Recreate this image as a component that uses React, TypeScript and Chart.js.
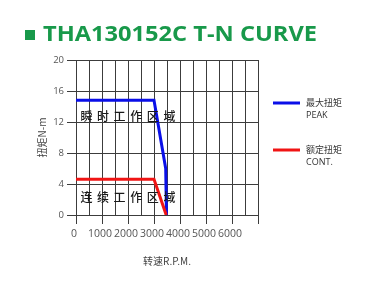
import React, { useEffect, useRef } from 'react';
import { Chart, registerables } from 'chart.js';

Chart.register(...registerables);

// ---- data ----
const chartTitle = 'THA130152C T-N CURVE';
const peakRpm = [0, 3000, 3450, 3480];
const peakTorque = [14.8, 14.8, 6.0, 0];
const contRpm = [0, 3000, 3470];
const contTorque = [4.6, 4.6, 0];
const seriesNamesCn = ['最大扭矩', '额定扭矩'];
const seriesNamesEn = ['PEAK', 'CONT.'];
const regionLabels = ['瞬时工作区域', '连续工作区域'];
const regionRpm = [400, 400];
const regionTorque = [12.7, 2.3];
const xTicksShown = [0, 1000, 2000, 3000, 4000, 5000, 6000];
const xMajorTicks = [0, 1000, 2000, 3000, 4000, 5000, 6000, 7000];
const yAxisTitle = '扭矩N-m';
const xAxisTitle = '转速R.P.M.';

const BLUE = '#0a0fe8';
const RED = '#f01414';
const GREEN = '#18994a';
const GRID = '#3c3c3c';

const decorPlugin = {
  id: 'decor',
  afterDraw(chart: any) {
    const ctx = chart.ctx;
    const xs = chart.scales.x;
    const ys = chart.scales.y;
    ctx.save();
    // title
    ctx.fillStyle = GREEN;
    ctx.fillRect(25, 30, 10, 10);
    ctx.font = 'bold 22px "Open Sans"';
    ctx.textBaseline = 'alphabetic';
    ctx.textAlign = 'left';
    const w = ctx.measureText(chartTitle).width;
    ctx.save();
    ctx.translate(43, 41);
    ctx.scale(274 / w, 1);
    ctx.fillText(chartTitle, 0, 0);
    ctx.restore();

    // region labels
    ctx.fillStyle = '#1a1a1a';
    ctx.font = '500 12px "Noto Sans CJK SC"';
    ctx.textAlign = 'center';
    ctx.textBaseline = 'middle';
    regionLabels.forEach((lab, i) => {
      const x0 = xs.getPixelForValue(regionRpm[i]);
      const y0 = ys.getPixelForValue(regionTorque[i]);
      Array.from(lab).forEach((ch, k) => {
        ctx.fillText(ch, x0 + k * 16.6, y0);
      });
    });

    // legend
    const colors = [BLUE, RED];
    const legendY = [103, 150];
    colors.forEach((c, i) => {
      ctx.strokeStyle = c;
      ctx.lineWidth = 3;
      ctx.beginPath();
      ctx.moveTo(273, legendY[i]);
      ctx.lineTo(300, legendY[i]);
      ctx.stroke();
      ctx.fillStyle = '#333';
      ctx.textAlign = 'left';
      ctx.textBaseline = 'middle';
      ctx.font = '9px "Noto Sans CJK SC"';
      ctx.fillText(seriesNamesCn[i], 306, legendY[i]);
      ctx.font = '9px "Open Sans"';
      ctx.fillText(seriesNamesEn[i], 306, legendY[i] + 12.5);
    });
    ctx.restore();
  },
};

export default function App() {
  const ref = useRef<HTMLCanvasElement>(null);
  useEffect(() => {
    document.body.style.margin = '0';
    const canvas = ref.current!;
    const chart = new Chart(canvas, {
      type: 'line',
      data: {
        datasets: [
          {
            label: seriesNamesEn[0],
            data: peakRpm.map((x, i) => ({ x, y: peakTorque[i] })),
            borderColor: BLUE,
            borderWidth: 3,
            pointRadius: 0,
            fill: false,
            tension: 0,
            order: 2,
          },
          {
            label: seriesNamesEn[1],
            data: contRpm.map((x, i) => ({ x, y: contTorque[i] })),
            borderColor: RED,
            borderWidth: 3,
            pointRadius: 0,
            fill: false,
            tension: 0,
            order: 1,
          },
        ],
      },
      options: {
        animation: false,
        responsive: false,
        devicePixelRatio: 1,
        layout: { padding: { left: 0, top: 60, right: 108, bottom: 0 } },
        plugins: { legend: { display: false }, tooltip: { enabled: false }, title: { display: false } },
        scales: {
          x: {
            type: 'linear',
            min: 0,
            max: 7000,
            afterFit: (s: any) => { s.height = 74; },
            ticks: {
              stepSize: 500,
              autoSkip: false,
              maxRotation: 0,
              labelOffset: -2,
              padding: 4,
              color: '#555',
              font: { family: '"Open Sans"', size: 10.5 },
              callback: (v: any) => (xTicksShown.includes(Number(v)) ? String(v) : ''),
            },
            grid: {
              color: GRID,
              lineWidth: 1,
              tickLength: 9,
              tickColor: (c: any) => (xMajorTicks.includes(c.tick?.value) ? GRID : 'rgba(0,0,0,0)'),
            },
            border: { display: true, color: GRID },
            title: {
              display: true,
              text: xAxisTitle,
              color: '#444',
              font: { family: '"Noto Sans CJK SC"', size: 10 },
              padding: { top: 0, bottom: 22 },
            },
          },
          y: {
            type: 'linear',
            min: 0,
            max: 20,
            afterFit: (s: any) => { s.width = 76; },
            ticks: {
              stepSize: 4,
              padding: 3,
              color: '#555',
              font: { family: '"Open Sans"', size: 9.5 },
            },
            grid: { color: GRID, lineWidth: 1, tickLength: 9 },
            border: { display: true, color: GRID },
            title: {
              display: true,
              text: yAxisTitle,
              color: '#444',
              font: { family: '"Noto Sans CJK SC"', size: 10 },
              padding: { top: 36, bottom: 0 },
            },
          },
        },
      },
      plugins: [decorPlugin],
    } as any);
    return () => chart.destroy();
  }, []);
  return (
    <div style={{ position: 'fixed', left: 0, top: 0, width: 366, height: 289, background: '#fff' }}>
      <canvas ref={ref} width={366} height={289} style={{ width: 366, height: 289, display: 'block' }} />
    </div>
  );
}
